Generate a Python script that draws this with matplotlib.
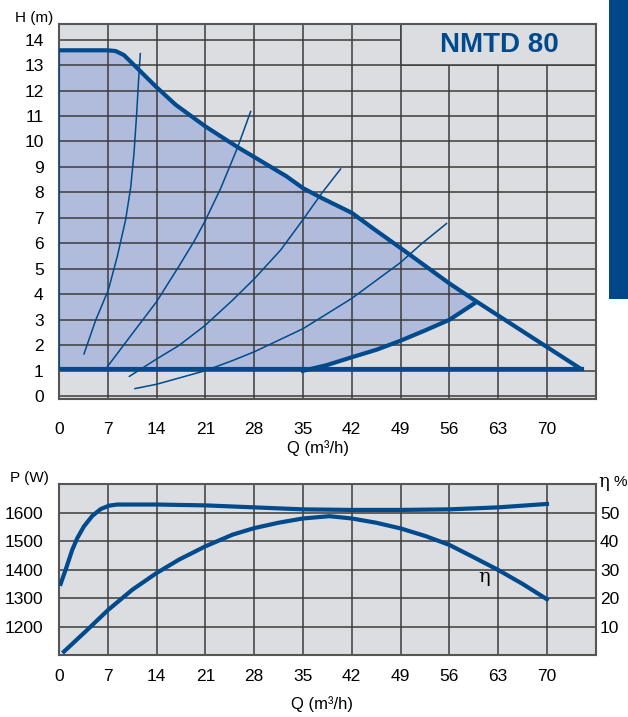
import matplotlib
matplotlib.use('Agg')
import matplotlib.pyplot as plt
from matplotlib.patches import Rectangle

plt.rcParams['font.family'] = ['Liberation Sans', 'DejaVu Sans']

# ---- data: head curves (Q in m3/h, H in m)
q_ticks = [0, 7, 14, 21, 28, 35, 42, 49, 56, 63, 70]
h_ticks = list(range(15))

max_q = [0, 7, 8.13, 9.33, 10.29, 11.48, 14, 16.75, 20.96, 23.9, 25.8, 28.2, 32.6,
         35, 37.7, 42, 45.3, 49, 56, 60, 75]
max_h = [13.58, 13.58, 13.55, 13.39, 13.13, 12.81, 12.13, 11.44, 10.6, 10.08, 9.75, 9.36, 8.64,
         8.17, 7.78, 7.2, 6.54, 5.82, 4.43, 3.7, 1.05]

min_q = [35, 38.4, 42, 45.6, 49, 52.5, 56, 59.8]
min_h = [1.0, 1.22, 1.53, 1.83, 2.18, 2.58, 3.0, 3.68]

base_q = [0, 75]
base_h = [1.05, 1.05]

sys1_q = [3.59, 5.26, 7.08, 8.37, 9.57, 10.29, 10.77, 11.15, 11.48, 11.67]
sys1_h = [1.66, 2.98, 4.17, 5.49, 6.94, 8.2, 9.56, 11.12, 12.68, 13.45]
sys2_q = [6.7, 10.5, 14, 17.2, 19.4, 20.96, 23.2, 25.6, 27.5]
sys2_h = [1.07, 2.45, 3.71, 5.1, 6.09, 6.88, 8.16, 9.75, 11.18]
sys3_q = [10.1, 14, 17.2, 20.96, 24.9, 28.06, 31.8, 35, 37.7, 40.4]
sys3_h = [0.78, 1.46, 1.99, 2.78, 3.77, 4.62, 5.74, 6.93, 7.97, 8.92]
sys4_q = [10.9, 14, 20.96, 24.9, 28.06, 35, 42, 49, 52, 55.6]
sys4_h = [0.3, 0.47, 1.0, 1.4, 1.75, 2.65, 3.84, 5.25, 5.98, 6.78]

# ---- data: power and efficiency
p_ticks = [1200, 1300, 1400, 1500, 1600]
eta_ticks = [10, 20, 30, 40, 50]

pow_q = [0.24, 0.96, 1.91, 2.63, 3.58, 4.78, 5.98, 7.18, 8.37, 14, 21, 28, 35, 42, 49, 56, 63, 70]
pow_w = [1350, 1400, 1470, 1511, 1552, 1589, 1613, 1625, 1629, 1629, 1626, 1619, 1612, 1610,
         1610, 1612, 1619, 1631]

eta_q = [0.72, 3.83, 7.08, 10.5, 14, 17.2, 21, 24.9, 28, 31.5, 35, 38.8, 42, 45.5, 49, 52.6,
         56, 59.3, 63, 66.5, 70]
eta_pc = [1.2, 8.3, 15.9, 22.9, 28.8, 33.5, 38.2, 42.3, 44.6, 46.5, 48.0, 48.8, 48.0, 46.5,
          44.5, 41.8, 38.7, 34.6, 29.9, 25.0, 19.6]

blue = '#004a8d'
bg = '#dcdde0'
fillc = '#b1bcdc'
gridc = '#3c3c3c'

fig = plt.figure(figsize=(6.28, 7.17), dpi=100)

# side bar on the right
fig.patches.append(Rectangle((0.9697, 0.5834), 0.0303, 0.4166, transform=fig.transFigure,
                             facecolor='#00478a', edgecolor='none'))

# ---------------- top chart
ax = fig.add_axes([0.0939, 0.4431, 0.8547, 0.523])
ax.set_facecolor(bg)
ax.set_xlim(0, 77)
ax.set_ylim(-0.12, 14.6)
ax.set_xticks(q_ticks)
ax.set_yticks(h_ticks)
ax.grid(True, color=gridc, lw=1.1)
ax.tick_params(length=0, labelsize=12.5)
ax.tick_params(axis='x', pad=16)
ax.tick_params(axis='y', pad=11)
for s in ax.spines.values():
    s.set_color('#555555')
    s.set_linewidth(1.5)

# shaded operating area
top_q = [q for q in max_q if q <= 60]
top_h = max_h[:len(top_q)]
poly_q = top_q + min_q[::-1] + [0]
poly_h = top_h + min_h[::-1] + [1.05]
ax.fill(poly_q, poly_h, color=fillc, lw=0, zorder=1)

# title box
ax.add_patch(Rectangle((49, 13), 28, 1.6, facecolor=bg, edgecolor=gridc, lw=1.1, zorder=1.6))
ax.text(63.2, 13.8, 'NMTD 80', color=blue, fontsize=20, fontweight='bold',
        ha='center', va='center', zorder=3)

for qq, hh in [(sys1_q, sys1_h), (sys2_q, sys2_h), (sys3_q, sys3_h), (sys4_q, sys4_h)]:
    ax.plot(qq, hh, color=blue, lw=1.1, zorder=2)

ax.plot(max_q, max_h, color=blue, lw=3, solid_capstyle='butt', solid_joinstyle='round', zorder=3)
ax.plot(min_q, min_h, color=blue, lw=3, solid_joinstyle='round', zorder=3)
ax.plot(base_q, base_h, color=blue, lw=3, zorder=3)
ax.plot([0, 0], [1.05, 13.58], color=blue, lw=1.5, zorder=3)

fig.text(0.024, 0.975, 'H (m)', fontsize=11, ha='left', va='center')
fig.text(0.507, 0.375, 'Q (m³/h)', fontsize=12, ha='center', va='center')

# ---------------- bottom chart
bx = fig.add_axes([0.0939, 0.0865, 0.8547, 0.238])
bx.set_facecolor(bg)
bx.set_xlim(0, 77)
bx.set_ylim(1100, 1700)
bx.set_xticks(q_ticks)
bx.set_yticks(p_ticks)
bx.grid(True, color=gridc, lw=1.1)
bx.tick_params(length=0, labelsize=12.5)
bx.tick_params(axis='x', pad=10)
bx.tick_params(axis='y', pad=11)
for s in bx.spines.values():
    s.set_color('#555555')
    s.set_linewidth(1.5)

bx.plot(pow_q, pow_w, color=blue, lw=3, solid_joinstyle='round', zorder=3)

ex = bx.twinx()
ex.set_ylim(0, 60)
ex.set_yticks(eta_ticks)
ex.tick_params(length=0, labelsize=12.5, pad=3)
for s in ex.spines.values():
    s.set_visible(False)
ex.plot(eta_q, eta_pc, color=blue, lw=3, solid_joinstyle='round', zorder=3)
ex.text(61, 27.5, 'η', fontsize=14, family='DejaVu Serif', ha='center', va='center')

fig.text(0.016, 0.333, 'P (W)', fontsize=11, ha='left', va='center')
fig.text(0.952, 0.328, 'η', fontsize=13, family='DejaVu Serif', ha='left', va='center')
fig.text(0.977, 0.328, '%', fontsize=11, ha='left', va='center')
fig.text(0.513, 0.018, 'Q (m³/h)', fontsize=12, ha='center', va='center')

fig.savefig('out.png', dpi=100)
